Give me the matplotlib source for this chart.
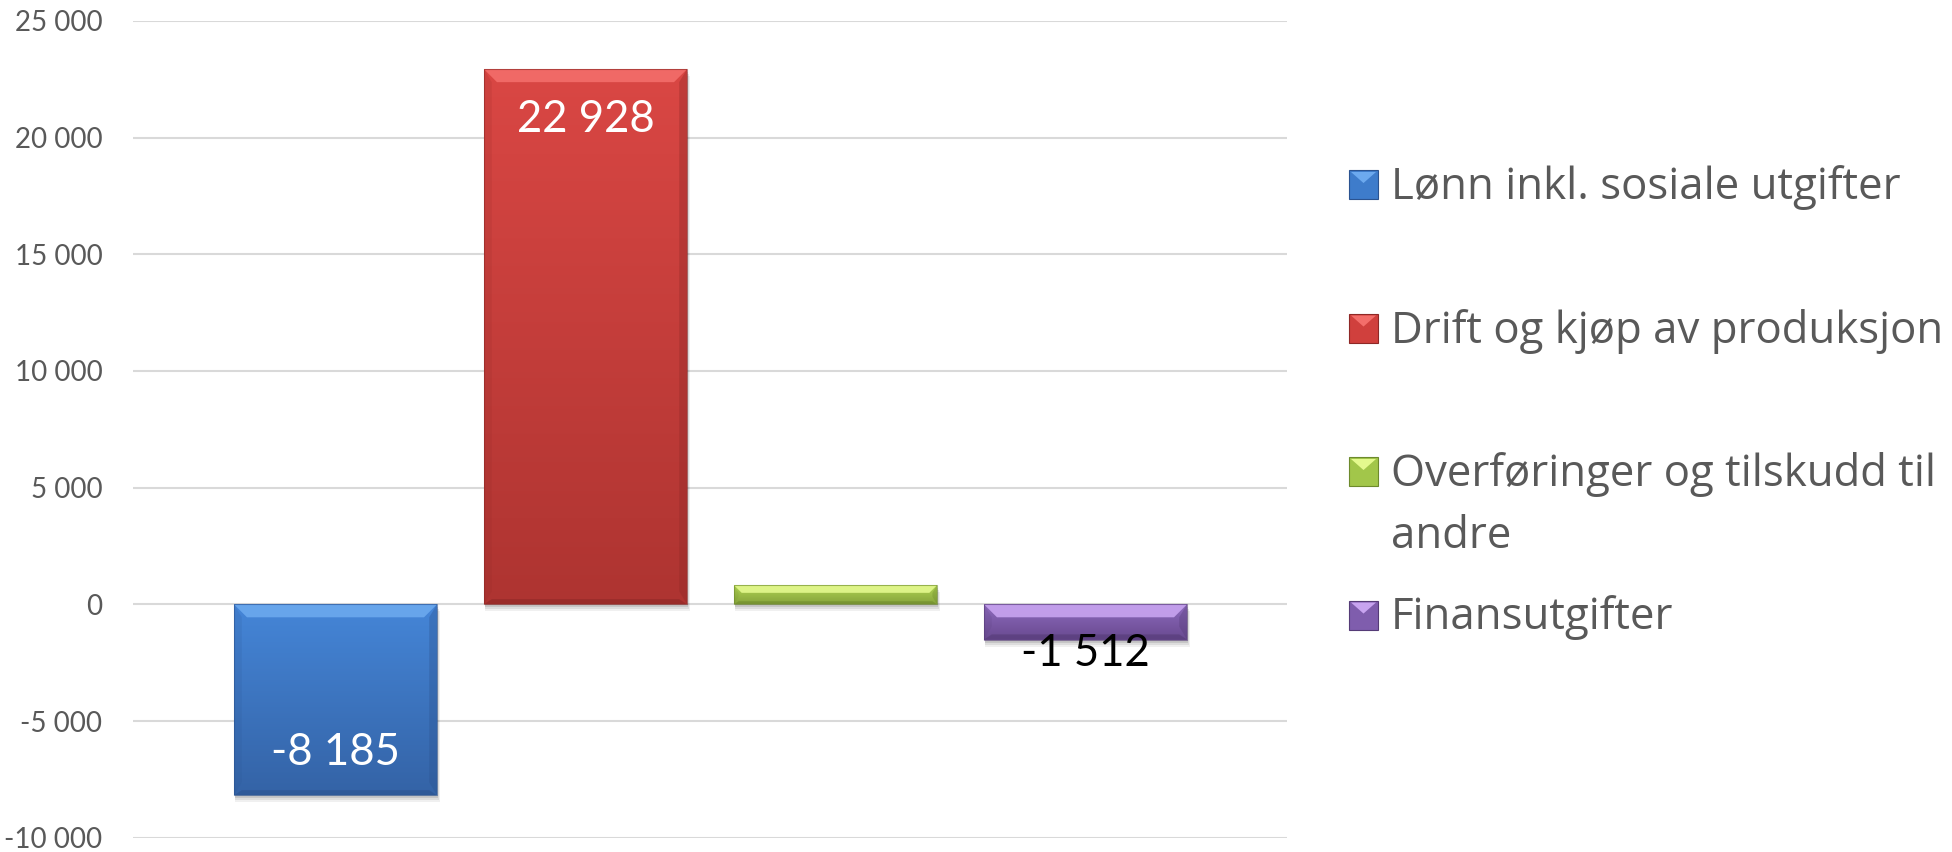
import matplotlib
matplotlib.use("Agg")
import matplotlib.pyplot as plt
import numpy as np
from matplotlib.patches import Polygon, Rectangle

# ---------------- data ----------------
categories = ["Lønn inkl. sosiale utgifter",
              "Drift og kjøp av produksjon",
              "Overføringer og tilskudd til\nandre",
              "Finansutgifter"]
values = [-8185, 22928, 820, -1512]
value_labels = ["-8 185", "22 928", None, "-1 512"]
yticks = [-10000, -5000, 0, 5000, 10000, 15000, 20000, 25000]

# ---------------- style ----------------
mid_colors = ["#3E7CCB", "#D0403D", "#A2C64A", "#7F5DAD"]
top_colors = ["#4586D8", "#DA4744", "#B4D754", "#8E6BBE"]
bot_colors = ["#3463A6", "#AE3431", "#86A43B", "#68498F"]
light_colors = ["#6CA9EE", "#F36E6A", "#E4F98E", "#C8A4F0"]
dark_colors = ["#2B5390", "#8E2826", "#6D8A2C", "#553B77"]
label_colors = ["white", "white", "white", "black"]
label_offsets_px = [-43, -50, 0, 14]   # centre offset from bar end (px)

W, H, DPI = 1952, 852, 100
plt.rcParams['font.family'] = ['Lato', 'DejaVu Sans']
fig = plt.figure(figsize=(W / DPI, H / DPI), dpi=DPI)
fig.patch.set_facecolor("white")

ax_left, ax_right, ax_top, ax_bot = 133, 1287, 20.8, 837.7
ax = fig.add_axes([ax_left / W, (H - ax_bot) / H, (ax_right - ax_left) / W, (ax_bot - ax_top) / H])
xlim = (-0.81, 3.806)
ylim = (-10000, 25000)
ax.set_xlim(*xlim)
ax.set_ylim(*ylim)
for s in ax.spines.values():
    s.set_visible(False)
ax.set_xticks([])
ax.set_yticks(yticks)
ax.set_yticklabels([f"{v:,}".replace(",", " ") for v in yticks], color="#595959", fontsize=20)
ax.tick_params(axis="y", length=0, pad=22)
ax.yaxis.grid(True, color="#D9D9D9", linewidth=1.5, zorder=0)
ax.set_axisbelow(True)

sx = (xlim[1] - xlim[0]) / (ax_right - ax_left)
sy = (ylim[1] - ylim[0]) / (ax_bot - ax_top)

x = np.arange(len(values))
width = 0.812
bars = ax.bar(x, values, width=width, color=mid_colors, zorder=3, linewidth=0)

for i, b in enumerate(bars):
    x0 = b.get_x()
    x1 = x0 + b.get_width()
    yb = min(b.get_y(), b.get_y() + b.get_height())
    yt = max(b.get_y(), b.get_y() + b.get_height())
    hpx = (yt - yb) / sy
    # soft shadow
    for k, a in zip([7, 5, 3], [0.06, 0.08, 0.10]):
        ax.add_patch(Rectangle((x0 + 1 * sx, yb - k * sy), x1 - x0 + (k - 3) * sx * 0.5, yt - yb,
                               facecolor="black", alpha=a, linewidth=0, zorder=2))
    # gradient body
    grad = np.linspace(0, 1, 256)[:, None]
    c_top = np.array(matplotlib.colors.to_rgb(top_colors[i]))
    c_bot = np.array(matplotlib.colors.to_rgb(bot_colors[i]))
    img = c_top[None, None, :] * (1 - grad[..., None]) + c_bot[None, None, :] * grad[..., None]
    im = ax.imshow(img, extent=(x0, x1, yb, yt), origin="upper", aspect="auto", zorder=3.1)
    im.set_clip_path(b)
    # bevel
    bpx = min(13, hpx * 0.4)
    bx, by = bpx * sx, bpx * sy
    ax.add_patch(Polygon([(x0, yt), (x1, yt), (x1 - bx, yt - by), (x0 + bx, yt - by)],
                         closed=True, facecolor=light_colors[i], linewidth=0, zorder=3.2, alpha=0.9))
    ax.add_patch(Polygon([(x1, yt), (x1, yb), (x1 - bx * 0.6, yb + by), (x1 - bx * 0.6, yt - by)],
                         closed=True, facecolor=dark_colors[i], linewidth=0, zorder=3.2, alpha=0.35))
    ax.add_patch(Polygon([(x0, yt), (x0, yb), (x0 + bx * 0.6, yb + by), (x0 + bx * 0.6, yt - by)],
                         closed=True, facecolor=dark_colors[i], linewidth=0, zorder=3.2, alpha=0.15))
    ax.add_patch(Polygon([(x0, yb), (x1, yb), (x1 - bx * 0.6, yb + by * 0.4), (x0 + bx * 0.6, yb + by * 0.4)],
                         closed=True, facecolor=dark_colors[i], linewidth=0, zorder=3.2, alpha=0.6))
    ax.add_patch(Rectangle((x0, yb), x1 - x0, yt - yb, facecolor="none",
                           edgecolor=dark_colors[i], linewidth=0.8, zorder=3.3, alpha=0.6))

    if value_labels[i] is not None:
        v = values[i]
        off = -label_offsets_px[i] * 0.72 if v < 0 else label_offsets_px[i] * 0.72
        ax.annotate(value_labels[i], (b.get_x() + b.get_width() / 2, v),
                    xytext=(0, off), textcoords="offset points", ha="center", va="center",
                    color=label_colors[i], fontsize=31.5, zorder=5)

# ---------------- legend (drawn in figure pixels) ----------------
lax = fig.add_axes([0, 0, 1, 1], zorder=10)
lax.set_xlim(0, W)
lax.set_ylim(H, 0)
lax.axis("off")
lax.patch.set_alpha(0)
sq_left, sq_size, text_left = 1349, 29, 1391
first_top, row_step, line_step = 170, 143.5, 62
for i, name in enumerate(categories):
    top = first_top + i * row_step
    bottom = top + sq_size
    lax.add_patch(Rectangle((sq_left, top), sq_size, sq_size, facecolor=mid_colors[i],
                            edgecolor=dark_colors[i], linewidth=0.8))
    lax.add_patch(Polygon([(sq_left + 2, top + 2), (sq_left + sq_size - 2, top + 2),
                           (sq_left + sq_size / 2, top + sq_size * 0.45)],
                          closed=True, facecolor=light_colors[i], linewidth=0))
    for j, line in enumerate(name.split("\n")):
        lax.text(text_left, bottom + j * line_step, line, ha="left", va="baseline",
                 fontsize=31.5, color="#595959", family=["Open Sans", "DejaVu Sans"])

fig.savefig("out.png", dpi=DPI, facecolor="white")
